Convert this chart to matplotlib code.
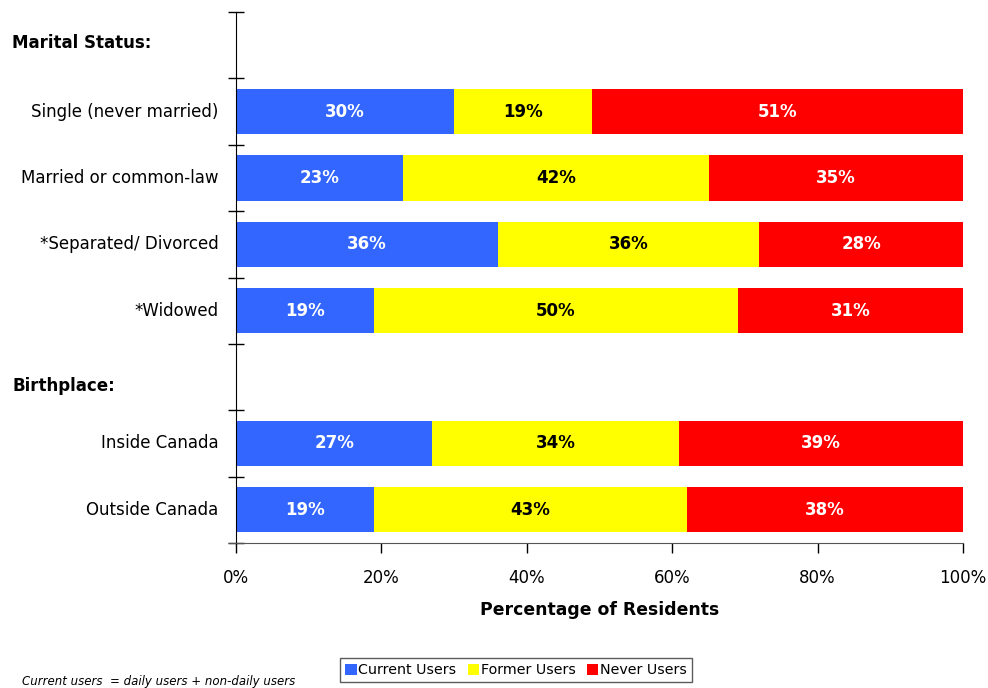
import matplotlib
matplotlib.use("Agg")
import matplotlib.pyplot as plt
import numpy as np

plt.rcParams['font.family'] = ['DejaVu Sans']

categories = ["Single (never married)", "Married or common-law", "*Separated/ Divorced",
              "*Widowed", "Inside Canada", "Outside Canada"]
slots = [1, 2, 3, 4, 6, 7]
headers = ["Marital Status:", "Birthplace:"]
header_y = [43, 386]
current = [30, 23, 36, 19, 27, 19]
former = [19, 42, 36, 50, 34, 43]
never = [51, 35, 28, 31, 39, 38]
series = ["Current Users", "Former Users", "Never Users"]
colors = ["#3366FF", "#FFFF00", "#FF0000"]
text_colors = ["white", "black", "white"]
xticks = [0, 20, 40, 60, 80, 100]

fig = plt.figure(figsize=(9.88, 6.88), dpi=100)
ax = fig.add_axes([236/988, 1-543/688, (963-236)/988, (543-12)/688])

left = np.zeros(len(categories))
for vals, col, tc, name in zip([current, former, never], colors, text_colors, series):
    vals = np.array(vals, dtype=float)
    ax.barh(slots, vals, left=left, height=0.68, color=col, label=name, edgecolor='none')
    for y, l, v in zip(slots, left, vals):
        ax.text(l + v/2, y, f"{int(v)}%", ha='center', va='center', color=tc,
                fontsize=12, fontweight='bold')
    left += vals

ax.set_xlim(0, 100)
ax.set_ylim(7.5, -0.5)
ax.set_yticks([s - 0.5 for s in range(9)])
ax.set_yticklabels([])
ax.tick_params(axis='y', direction='inout', length=12, width=1)
for s, c in zip(slots, categories):
    ax.text(-2.4, s, c, ha='right', va='center', fontsize=12)
for h, y in zip(headers, header_y):
    fig.text(12/988, 1 - y/688, h, ha='left', va='center', fontsize=12, fontweight='bold')

ax.set_xticks(xticks)
ax.set_xticklabels([f"{t}%" for t in xticks], fontsize=12)
ax.tick_params(axis='x', direction='out', length=7, width=1, pad=12)
ax.set_xlabel("Percentage of Residents", fontsize=12.4, fontweight='bold', labelpad=10)

for sp in ['top', 'right']:
    ax.spines[sp].set_visible(False)
ax.spines['bottom'].set_color('#555555')
ax.spines['bottom'].set_bounds(-1, 100)
ax.spines['left'].set_color('black')

leg = ax.legend(loc='center', bbox_to_anchor=((516-236)/(963-236), (1-670/688 - (1-543/688)) / ((543-12)/688)),
                ncol=3, frameon=True, fancybox=False, fontsize=10.3, handlelength=0.8,
                handleheight=0.8, handletextpad=0.1, columnspacing=0.8, borderpad=0.35,
                edgecolor='#333333')
leg.get_frame().set_linewidth(1)

fig.text(22/988, 1 - 682/688, "Current users  = daily users + non-daily users",
         fontsize=8.5, style='italic', ha='left', va='center')

fig.savefig("out.png", dpi=100)
